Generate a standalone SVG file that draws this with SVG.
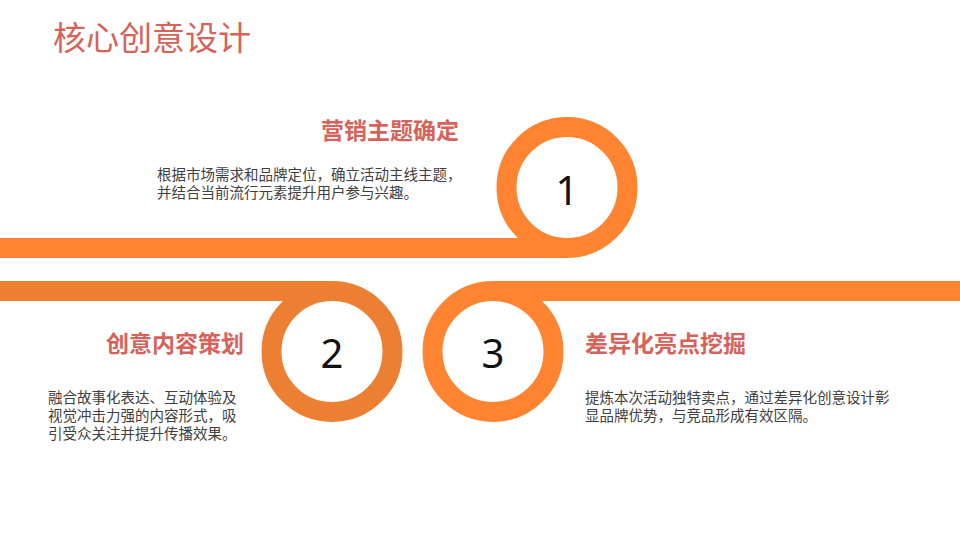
<svg xmlns="http://www.w3.org/2000/svg" width="960" height="540" viewBox="0 0 960 540">
  <style>
    .title { font-family: "Noto Sans CJK SC", "Noto Sans", sans-serif; font-size: 33px; fill: #D6625A; }
    .head { font-family: "Noto Sans CJK SC", "Noto Sans", sans-serif; font-size: 23px; font-weight: bold; fill: #D6625A; }
    .body { font-family: "Noto Sans CJK SC", "Noto Sans", sans-serif; font-size: 14.5px; fill: #404040; }
    .num { font-family: "Noto Sans", "DejaVu Sans", sans-serif; font-size: 40px; fill: #111111; text-anchor: middle; }
    .ringA { fill: none; stroke: #FF8431; stroke-width: 20; }
    .ringB { fill: none; stroke: #ED7F33; stroke-width: 20; }
    .lineA { stroke: #FF8431; stroke-width: 20; fill: none; }
    .lineB { stroke: #ED7F33; stroke-width: 20; fill: none; }
  </style>
  <rect width="960" height="540" fill="#FFFFFF"/>
  <text class="title" x="53" y="50">核心创意设计</text>

  <g id="connectors">
    <line class="lineA" x1="0" y1="248" x2="567" y2="248"/>
    <line class="lineB" x1="0" y1="291" x2="332" y2="291"/>
    <line class="lineA" x1="493" y1="291" x2="960" y2="291"/>
  </g>

  <g id="node1">
    <circle class="ringA" cx="567" cy="187.5" r="60.5"/>
    <text class="num" x="567" y="205">1</text>
    <text class="head" x="459" y="138.5" text-anchor="end">营销主题确定</text>
    <text class="body" x="157" y="179.5">根据市场需求和品牌定位，确立活动主线主题，<tspan x="157" dy="18">并结合当前流行元素提升用户参与兴趣。</tspan></text>
  </g>

  <g id="node2">
    <circle class="ringB" cx="332" cy="351.5" r="60.5"/>
    <text class="num" x="332" y="368">2</text>
    <text class="head" x="244" y="351.5" text-anchor="end">创意内容策划</text>
    <text class="body" x="48" y="403">融合故事化表达、互动体验及<tspan x="48" dy="18">视觉冲击力强的内容形式，吸</tspan><tspan x="48" dy="18">引受众关注并提升传播效果。</tspan></text>
  </g>

  <g id="node3">
    <circle class="ringA" cx="493" cy="351.5" r="60.5"/>
    <text class="num" x="493" y="368">3</text>
    <text class="head" x="585" y="351.5">差异化亮点挖掘</text>
    <text class="body" x="585" y="403">提炼本次活动独特卖点，通过差异化创意设计彰<tspan x="585" dy="18">显品牌优势，与竞品形成有效区隔。</tspan></text>
  </g>
</svg>
